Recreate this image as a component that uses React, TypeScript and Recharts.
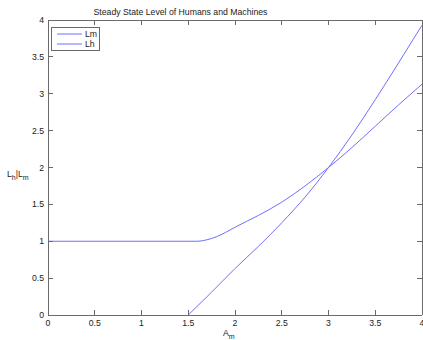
import { LineChart, Line, XAxis, YAxis, Label, ReferenceLine } from 'recharts'

// Lm: flat at 1 until ~1.6, then rises
const lmX = [0, 0.5, 1, 1.5, 1.6, 1.7, 1.8, 1.9, 2, 2.25, 2.5, 2.75, 3, 3.25, 3.5, 3.75, 4]
const lmY = [1, 1, 1, 1, 1, 1.02, 1.06, 1.12, 1.19, 1.35, 1.53, 1.75, 2, 2.27, 2.56, 2.85, 3.13]

// Lh: starts at 0 at Am = 1.5
const lhX = [1.5, 1.75, 2, 2.25, 2.5, 2.75, 3, 3.25, 3.5, 3.75, 4]
const lhY = [0, 0.31, 0.63, 0.93, 1.25, 1.6, 2, 2.44, 2.92, 3.42, 3.93]

const ticks = [0, 0.5, 1, 1.5, 2, 2.5, 3, 3.5, 4]
const seriesNames = ['Lm', 'Lh']

const LINE = '#6f6fff'
const AXIS = '#6a6a6a'
const TEXT = '#222'
const FONT = '"Liberation Sans", Arial, sans-serif'
const FS = 8.7

const W = 423
const H = 340
const PLOT_TOP = 20
const PLOT_RIGHT = 422
const TICK = 5

const lmData = lmX.map((x, i) => ({ am: x, value: lmY[i] }))
const lhData = lhX.map((x, i) => ({ am: x, value: lhY[i] }))

// bottom tick label + inward ticks on bottom and top edges
function XTick(props: any) {
  const { x, y, payload } = props
  return (
    <g>
      <line x1={x} x2={x} y1={PLOT_TOP} y2={PLOT_TOP + TICK} stroke={AXIS} shapeRendering="crispEdges" />
      <text x={x} y={y} dy="0.71em" textAnchor="middle" fontSize={FS} fontFamily={FONT} fill={TEXT}>
        {payload.value}
      </text>
    </g>
  )
}

// left tick label + inward ticks on the right edge
function YTick(props: any) {
  const { x, y, payload } = props
  return (
    <g>
      <line x1={PLOT_RIGHT - TICK} x2={PLOT_RIGHT} y1={y} y2={y} stroke={AXIS} shapeRendering="crispEdges" />
      <text x={x} y={y} dy="0.355em" textAnchor="end" fontSize={FS} fontFamily={FONT} fill={TEXT}>
        {payload.value}
      </text>
    </g>
  )
}

function LegendBox() {
  return (
    <div
      style={{
        position: 'absolute',
        left: 51,
        top: 27,
        width: 49,
        height: 24,
        border: `1px solid ${AXIS}`,
        background: '#fff',
        boxSizing: 'border-box',
      }}
    >
      <svg width={47} height={22} style={{ display: 'block' }}>
        {seriesNames.map((n, i) => (
          <g key={n}>
            <line x1={5} x2={30} y1={6 + i * 10} y2={6 + i * 10} stroke={LINE} />
            <text x={33} y={9 + i * 10} fontSize={FS} fontFamily={FONT} fill={TEXT}>
              {n}
            </text>
          </g>
        ))}
      </svg>
    </div>
  )
}

export default function App() {
  return (
    <div style={{ position: 'absolute', left: 0, top: 0, width: W, height: H, background: '#fff' }}>
      <LineChart width={W} height={H} margin={{ top: PLOT_TOP, right: W - PLOT_RIGHT, left: 0, bottom: 0 }}>
        <XAxis
          dataKey="am"
          type="number"
          domain={[0, 4]}
          ticks={ticks}
          interval={0}
          height={25}
          stroke={AXIS}
          tickSize={-TICK}
          tickMargin={9.5}
          tick={<XTick />}
          tickLine={{ stroke: AXIS, shapeRendering: 'crispEdges' }}
          axisLine={{ stroke: AXIS, shapeRendering: 'crispEdges' }}
          allowDuplicatedCategory={false}
        >
          <Label
            content={() => (
              <text x={223} y={336} fontSize={FS} fontFamily={FONT} fill={TEXT}>
                A<tspan dy={3} fontSize={7} fill={TEXT}>m</tspan>
              </text>
            )}
          />
        </XAxis>
        <YAxis
          type="number"
          domain={[0, 4]}
          ticks={ticks}
          interval={0}
          width={48}
          stroke={AXIS}
          tickSize={-TICK}
          tickMargin={9}
          tick={<YTick />}
          tickLine={{ stroke: AXIS, shapeRendering: 'crispEdges' }}
          axisLine={{ stroke: AXIS, shapeRendering: 'crispEdges' }}
        >
          <Label
            content={() => (
              <g>
                <text x={180.5} y={15} textAnchor="middle" fontSize={FS} fontFamily={FONT} fill={TEXT}>
                  Steady State Level of Humans and Machines
                </text>
                <text x={7} y={177} fontSize={FS} fontFamily={FONT} fill={TEXT}>
                  L<tspan dy={3} fontSize={7} fill={TEXT}>h</tspan>
                  <tspan dy={-3} fill={TEXT}>|L</tspan>
                  <tspan dy={3} fontSize={7} fill={TEXT}>m</tspan>
                </text>
              </g>
            )}
          />
        </YAxis>
        {/* box edges (top and right) */}
        <ReferenceLine y={4} stroke={AXIS} shapeRendering="crispEdges" />
        <ReferenceLine x={4} stroke={AXIS} shapeRendering="crispEdges" />
        <Line
          data={lmData}
          dataKey="value"
          name="Lm"
          stroke={LINE}
          strokeWidth={1}
          dot={false}
          type="monotone"
          isAnimationActive={false}
        />
        <Line
          data={lhData}
          dataKey="value"
          name="Lh"
          stroke={LINE}
          strokeWidth={1}
          dot={false}
          type="monotone"
          isAnimationActive={false}
        />
      </LineChart>
      <LegendBox />
    </div>
  )
}
